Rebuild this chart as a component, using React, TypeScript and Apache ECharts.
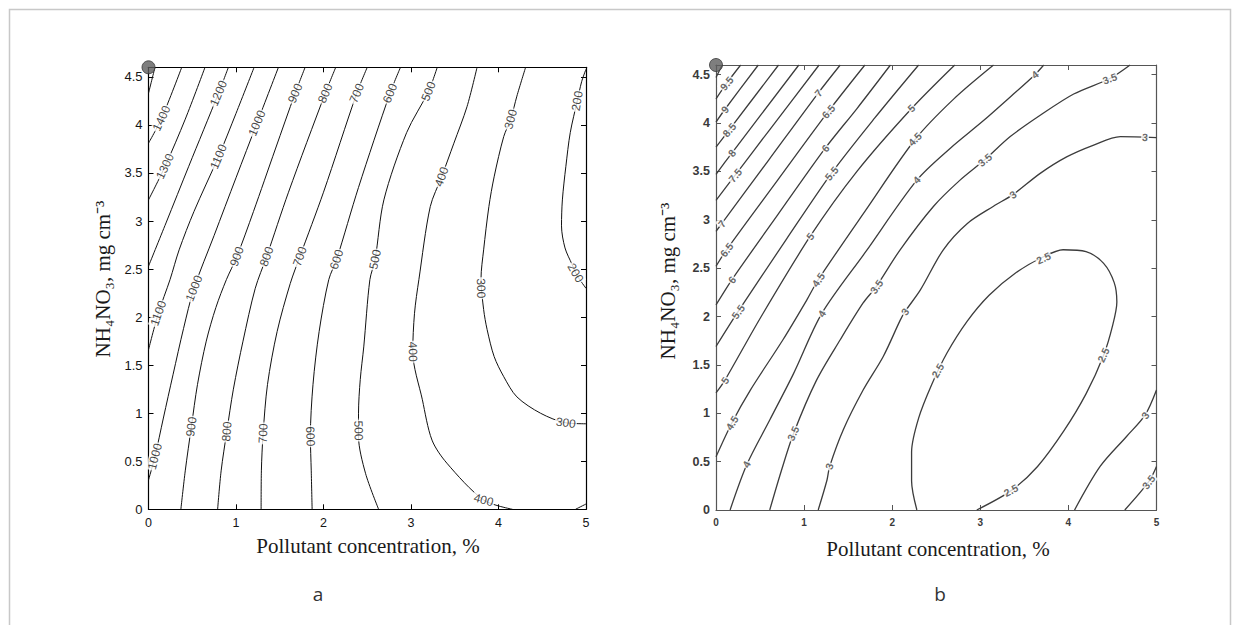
import React, { useEffect, useRef } from "react";
import * as echarts from "echarts";

// ---------- Panel a: contour lines (x = pollutant %, y = NH4NO3) ----------
const a1500 = [[0, 4.33], [0.074, 4.6]];
const a1400 = [[0, 3.81], [0.15, 4.07], [0.38, 4.6]];
const a1300 = [[0, 3.22], [0.19, 3.57], [0.42, 4.06], [0.646, 4.6]];
const a1200 = [[0, 2.53], [0.2, 2.98], [0.46, 3.57], [0.8, 4.33], [0.913, 4.6]];
const a1100 = [[0, 1.66], [0.112, 2.04], [0.246, 2.39], [0.35, 2.7], [0.52, 3.1], [0.8, 3.67], [1.0, 4.12], [1.207, 4.6]];
const a1000 = [[0, 0.305], [0.074, 0.55], [0.17, 0.95], [0.28, 1.4], [0.4, 1.88], [0.52, 2.3], [0.75, 2.85], [1.0, 3.45], [1.24, 4.02], [1.485, 4.6]];
const a900 = [[0.37, 0], [0.42, 0.4], [0.49, 0.86], [0.56, 1.3], [0.66, 1.75], [0.77, 2.1], [0.89, 2.39], [1.01, 2.63], [1.2, 3.1], [1.45, 3.75], [1.676, 4.33], [1.79, 4.6]];
const a800 = [[0.79, 0], [0.83, 0.4], [0.895, 0.81], [0.97, 1.25], [1.08, 1.75], [1.22, 2.3], [1.35, 2.63], [1.6, 3.3], [2.02, 4.33], [2.14, 4.6]];
const a700 = [[1.287, 0], [1.29, 0.4], [1.31, 0.79], [1.36, 1.3], [1.47, 1.85], [1.62, 2.35], [1.73, 2.63], [2.0, 3.3], [2.38, 4.33], [2.5, 4.6]];
const a600 = [[1.87, 0], [1.86, 0.4], [1.85, 0.76], [1.88, 1.3], [1.95, 1.85], [2.06, 2.39], [2.15, 2.6], [2.4, 3.35], [2.76, 4.33], [2.88, 4.6]];
const a500 = [[2.63, 0], [2.48, 0.375], [2.4, 0.76], [2.4, 1.0], [2.42, 1.35], [2.46, 1.69], [2.53, 2.39], [2.59, 2.6], [2.69, 3.22], [2.95, 3.92], [3.2, 4.35], [3.3, 4.6]];
const a400 = [[4.16, 0], [3.83, 0.097], [3.41, 0.48], [3.24, 0.72], [3.13, 1.14], [3.02, 1.64], [3.04, 2.04], [3.09, 2.39], [3.22, 3.15], [3.35, 3.46], [3.49, 3.81], [3.64, 4.19], [3.755, 4.6]];
const a400corner = [[4.88, 0], [5, 0.055]];
const a300 = [[5, 0.89], [4.77, 0.9], [4.48, 1.0], [4.21, 1.17], [4.06, 1.38], [3.95, 1.59], [3.87, 1.87], [3.83, 2.08], [3.8, 2.4], [3.83, 2.7], [3.89, 3.15], [3.95, 3.46], [4.06, 3.88], [4.14, 4.06], [4.21, 4.3], [4.31, 4.6]];
const a200 = [[5, 4.58], [4.95, 4.45], [4.9, 4.25], [4.82, 3.92], [4.77, 3.57], [4.73, 3.22], [4.72, 2.95], [4.76, 2.72], [4.84, 2.55], [4.9, 2.43], [5, 2.3]];

const aLines = [a1500, a1400, a1300, a1200, a1100, a1000, a900, a800, a700, a600, a500, a400, a400corner, a300, a200];

// contour labels of panel a: [text, x, y, angle]
const aLabels = [
  ["1400", 0.15, 4.07, 65], ["1300", 0.19, 3.57, 65], ["1200", 0.8, 4.33, 67], ["1100", 0.8, 3.67, 67],
  ["1000", 1.24, 4.02, 67], ["900", 1.676, 4.33, 67], ["800", 2.02, 4.33, 67], ["700", 2.38, 4.33, 67],
  ["600", 2.76, 4.33, 68], ["500", 3.2, 4.35, 68], ["400", 3.35, 3.46, 70], ["300", 4.14, 4.06, 75],
  ["200", 4.9, 4.25, 80], ["1100", 0.112, 2.04, 70], ["1000", 0.52, 2.3, 68], ["900", 1.01, 2.63, 70],
  ["800", 1.35, 2.63, 70], ["700", 1.73, 2.63, 70], ["600", 2.15, 2.6, 72], ["500", 2.59, 2.6, 78],
  ["300", 3.8, 2.3, -88], ["400", 3.02, 1.64, -88], ["500", 2.4, 0.82, -88], ["200", 4.88, 2.46, -60],
  ["300", 4.77, 0.9, -8], ["400", 3.83, 0.097, -15], ["1000", 0.074, 0.55, 75], ["900", 0.49, 0.86, 82],
  ["800", 0.895, 0.81, 85], ["700", 1.31, 0.79, 88], ["600", 1.85, 0.76, -88],
];

// ---------- Panel b ----------
const b10 = [[0, 4.47], [0.07, 4.6]];
const b95 = [[0, 4.25], [0.12, 4.41], [0.28, 4.6]];
const b9 = [[0, 4.01], [0.1, 4.14], [0.48, 4.6]];
const b85 = [[0, 3.75], [0.15, 3.93], [0.71, 4.6]];
const b8 = [[0, 3.47], [0.18, 3.69], [0.94, 4.6]];
const b75 = [[0, 3.2], [0.216, 3.46], [0.6, 3.92], [1.17, 4.6]];
const b7 = [[0, 2.88], [0.065, 2.96], [0.6, 3.62], [1.16, 4.31], [1.41, 4.6]];
const b65 = [[0, 2.52], [0.12, 2.69], [0.7, 3.41], [1.275, 4.12], [1.69, 4.6]];
const b6 = [[0, 2.12], [0.18, 2.38], [0.7, 3.05], [1.24, 3.74], [1.6, 4.15], [1.98, 4.6]];
const b55 = [[0, 1.69], [0.25, 2.05], [0.8, 2.8], [1.31, 3.48], [1.8, 4.05], [2.3, 4.6]];
const b5 = [[0, 1.21], [0.1, 1.34], [0.5, 1.98], [1.07, 2.83], [1.6, 3.5], [2.22, 4.15], [2.71, 4.6]];
const b45 = [[0, 0.55], [0.18, 0.9], [0.39, 1.24], [0.76, 1.76], [1.03, 2.17], [1.16, 2.38], [1.7, 3.1], [2.26, 3.83], [2.7, 4.25], [3.15, 4.6]];
const b4 = [[0.16, 0], [0.35, 0.47], [0.61, 0.93], [0.88, 1.41], [1.2, 2.03], [1.7, 2.67], [2.28, 3.41], [2.66, 3.74], [3.03, 4.02], [3.34, 4.27], [3.62, 4.5], [3.72, 4.6]];
const b35 = [[0.61, 0], [0.74, 0.4], [0.88, 0.79], [1.14, 1.34], [1.41, 1.76], [1.67, 2.14], [1.82, 2.31], [2.09, 2.69], [2.47, 3.14], [2.77, 3.41], [3.05, 3.62], [3.34, 3.86], [3.68, 4.08], [4.06, 4.3], [4.47, 4.46], [4.7, 4.6]];
const b3 = [[1.16, 0], [1.26, 0.31], [1.29, 0.45], [1.445, 0.83], [1.67, 1.24], [1.9, 1.59], [2.09, 1.96], [2.145, 2.05], [2.32, 2.275], [2.58, 2.69], [2.85, 2.96], [3.15, 3.14], [3.37, 3.26], [3.68, 3.48], [3.98, 3.65], [4.28, 3.77], [4.59, 3.86], [5, 3.85]];
const b25 = [[2.28, 0], [2.22, 0.3], [2.22, 0.6], [2.3, 0.95], [2.45, 1.3], [2.62, 1.62], [2.85, 1.95], [3.1, 2.22], [3.4, 2.45], [3.7, 2.61], [3.94, 2.69], [4.2, 2.67], [4.4, 2.55], [4.52, 2.35], [4.55, 2.15], [4.5, 1.9], [4.4, 1.6], [4.2, 1.2], [3.95, 0.82], [3.65, 0.45], [3.35, 0.2], [2.96, 0]];
const b3r = [[4.07, 0], [4.36, 0.45], [4.66, 0.76], [4.87, 0.98], [5, 1.24]];
const b35r = [[4.64, 0], [4.91, 0.29], [5, 0.45]];

const bLines = [b10, b95, b9, b85, b8, b75, b7, b65, b6, b55, b5, b45, b4, b35, b3, b25, b3r, b35r];

const bLabels = [
  ["9.5", 0.12, 4.41, 50], ["9", 0.1, 4.14, 50], ["8.5", 0.15, 3.93, 50], ["8", 0.18, 3.69, 50],
  ["7.5", 0.216, 3.46, 50], ["7", 0.065, 2.96, 50], ["6.5", 0.12, 2.69, 52], ["6", 0.18, 2.38, 52],
  ["5.5", 0.25, 2.05, 55], ["5", 0.1, 1.34, 55], ["4.5", 0.18, 0.9, 58], ["4", 0.35, 0.47, 62],
  ["7", 1.16, 4.31, 50], ["6.5", 1.275, 4.12, 50], ["6", 1.24, 3.74, 50], ["5.5", 1.31, 3.48, 50],
  ["5", 1.07, 2.83, 52], ["4.5", 1.16, 2.38, 55], ["4", 1.2, 2.03, 58], ["3.5", 0.88, 0.79, 65],
  ["3", 1.29, 0.45, 72], ["5", 2.22, 4.15, 45], ["4.5", 2.26, 3.83, 45], ["4", 2.28, 3.41, 45],
  ["3.5", 3.05, 3.62, 40], ["3", 3.37, 3.26, 35], ["4", 3.62, 4.5, 38], ["3.5", 4.47, 4.46, 20],
  ["3", 4.87, 3.85, -5], ["2.5", 3.72, 2.6, 25], ["3.5", 1.82, 2.31, 55], ["3", 2.145, 2.05, 55],
  ["2.5", 2.52, 1.44, 60], ["2.5", 4.4, 1.6, 65], ["2.5", 3.35, 0.2, 28], ["3", 4.87, 0.98, 55],
  ["3.5", 4.91, 0.29, 52],
];

const cornerPoint = [[0, 4.6]];
const xMax = 5;
const yMax = 4.6;

function axesFor(grid: number, color: string, xFont: number, yFont: number, bold: boolean) {
  const line = { show: true, onZero: false, lineStyle: { color, width: 1.2 } };
  const tick = { show: true, inside: true, length: 5, lineStyle: { color, width: 1 } };
  const lbl = (size: number) => ({
    show: true, fontSize: size, color: bold ? "#3a3a3a" : "#151515",
    fontFamily: "Liberation Sans", fontWeight: bold ? "bold" : "normal", margin: 7,
  });
  const xa = [
    { type: "value", gridIndex: grid, position: "bottom", min: 0, max: xMax, interval: 1, axisLine: line, axisTick: tick, axisLabel: lbl(xFont), splitLine: { show: false } },
    { type: "value", gridIndex: grid, position: "top", min: 0, max: xMax, interval: 1, axisLine: line, axisTick: tick, axisLabel: { show: false }, splitLine: { show: false } },
  ];
  const ya = [
    { type: "value", gridIndex: grid, position: "left", min: 0, max: yMax, interval: 0.5, axisLine: line, axisTick: tick, axisLabel: { ...lbl(yFont), showMaxLabel: false, margin: 6 }, splitLine: { show: false } },
    { type: "value", gridIndex: grid, position: "right", min: 0, max: yMax, interval: 0.5, axisLine: line, axisTick: tick, axisLabel: { show: false }, splitLine: { show: false } },
  ];
  return { xa, ya };
}

function seriesFor(grid: number, lines: number[][][], labels: any[], color: string, width: number, lblStyle: any) {
  const out: any[] = lines.map((pts) => ({
    type: "line", xAxisIndex: grid * 2, yAxisIndex: grid * 2, data: pts, showSymbol: false, symbol: "none",
    smooth: 0.3, silent: true, z: 2, lineStyle: { color, width }, animation: false,
  }));
  out.push({
    type: "scatter", xAxisIndex: grid * 2, yAxisIndex: grid * 2, symbolSize: 0, silent: true, z: 5,
    data: labels.map((l) => ({
      value: [l[1], l[2]],
      label: { show: true, position: "inside", formatter: l[0], rotate: l[3], ...lblStyle },
    })),
  });
  out.push({
    type: "scatter", xAxisIndex: grid * 2, yAxisIndex: grid * 2, symbolSize: 13, clip: false, silent: true, z: 6,
    itemStyle: { color: "#5e5e5e", borderColor: "#3a3a3a", borderWidth: 1 }, data: cornerPoint,
  });
  return out;
}

export default function App() {
  const ref = useRef<HTMLDivElement>(null);
  useEffect(() => {
    if (!ref.current) return;
    const chart = echarts.init(ref.current, undefined, { renderer: "svg" });
    const A = axesFor(0, "#000", 12.5, 13, false);
    const B = axesFor(1, "#555", 10, 12.5, true);
    const serifTitle = { fontFamily: "Liberation Serif", fontSize: 21, fill: "#1a1a1a", align: "center", verticalAlign: "middle", textAlign: "center", textVerticalAlign: "middle" };
    const option: any = {
      animation: false,
      backgroundColor: "#fff",
      grid: [
        { left: 148.5, top: 67.3, width: 437.5, height: 442, containLabel: false },
        { left: 716, top: 65, width: 440.5, height: 445, containLabel: false },
      ],
      xAxis: [...A.xa, ...B.xa],
      yAxis: [...A.ya, ...B.ya],
      series: [
        ...seriesFor(0, aLines, aLabels, "#111", 1, {
          fontSize: 12, fontFamily: "Liberation Sans", color: "#111", backgroundColor: "#fff", padding: [0, 1],
        }),
        ...seriesFor(1, bLines, bLabels, "#3c3c3c", 1.3, {
          fontSize: 10.5, fontFamily: "Liberation Sans", fontWeight: "bold", color: "#444", backgroundColor: "#fff", padding: [0, 1],
        }),
      ],
      graphic: [
        { type: "rect", silent: true, z: -10, shape: { x: 9.5, y: 9.5, width: 1221, height: 640 }, style: { fill: "none", stroke: "#c8c8c8", lineWidth: 1.5 } },
        { type: "text", silent: true, x: 368, y: 546, style: { text: "Pollutant concentration, %", ...serifTitle } },
        { type: "text", silent: true, x: 938, y: 549, style: { text: "Pollutant concentration, %", ...serifTitle } },
        { type: "text", silent: true, x: 103, y: 279, rotation: Math.PI / 2, style: { text: "NH₄NO₃, mg cm⁻³", ...serifTitle } },
        { type: "text", silent: true, x: 668, y: 281, rotation: Math.PI / 2, style: { text: "NH₄NO₃, mg cm⁻³", ...serifTitle } },
        { type: "text", silent: true, x: 318, y: 594, style: { text: "a", fontFamily: "Open Sans", fontSize: 19, fill: "#333", align: "center", verticalAlign: "middle", textAlign: "center", textVerticalAlign: "middle" } },
        { type: "text", silent: true, x: 940, y: 594, style: { text: "b", fontFamily: "Open Sans", fontSize: 19, fill: "#333", align: "center", verticalAlign: "middle", textAlign: "center", textVerticalAlign: "middle" } },
      ],
    };
    chart.setOption(option);
    return () => chart.dispose();
  }, []);
  return <div ref={ref} style={{ position: "fixed", left: 0, top: 0, width: 1239, height: 625, background: "#fff" }} />;
}
